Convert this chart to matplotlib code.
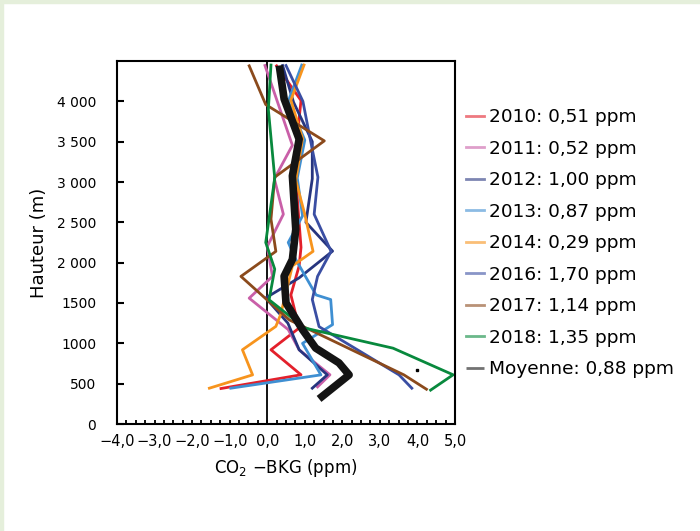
import matplotlib
matplotlib.use("Agg")
import matplotlib.pyplot as plt
from matplotlib.patches import Rectangle
from matplotlib.ticker import FixedLocator, MultipleLocator

# profils : altitude (m) et ecart CO2 - BKG (ppm)
h_2010 = [4440, 4010, 3790, 3300, 2800, 2190, 1960, 1600, 1190, 920, 610, 440]
v_2010 = [0.25, 0.90, 0.85, 0.75, 0.80, 0.90, 0.85, 0.63, 0.85, 0.10, 0.90, -1.23]

h_2011 = [4444, 3455, 3040, 2600, 2200, 1830, 1560, 1170, 920, 610, 460]
v_2011 = [-0.06, 0.67, 0.19, 0.43, 0.00, 0.14, -0.48, 0.56, 0.85, 1.67, 1.34]

h_2012 = [4444, 3990, 3500, 3040, 2500, 2143, 1812, 1563, 1250, 920, 609, 444]
v_2012 = [0.41, 0.70, 1.20, 1.20, 1.03, 1.74, 0.85, -0.04, 0.55, 0.85, 1.60, 1.20]

h_2013 = [4450, 4000, 3520, 3050, 2580, 2250, 2040, 1600, 1543, 1232, 1000, 609, 444]
v_2013 = [0.92, 0.56, 1.00, 0.80, 0.94, 0.56, 0.76, 1.30, 1.69, 1.74, 0.94, 1.43, -0.97]

h_2014 = [4450, 4015, 3540, 3020, 2600, 2140, 1960, 1360, 1210, 920, 609, 444]
v_2014 = [0.98, 0.63, 0.94, 0.76, 1.00, 1.22, 0.67, 0.36, 0.23, -0.66, -0.39, -1.54]

h_2016 = [4444, 4000, 3520, 3060, 2600, 2140, 1830, 1543, 1207, 609, 444]
v_2016 = [0.50, 0.95, 1.15, 1.35, 1.25, 1.70, 1.34, 1.20, 1.38, 3.51, 3.85]

h_2017 = [4440, 3960, 3510, 3060, 2540, 2140, 1830, 1290, 609, 431]
v_2017 = [-0.48, -0.04, 1.52, 0.20, 0.10, 0.23, -0.70, 0.59, 3.64, 4.24]

h_2018 = [4450, 3900, 3050, 2250, 1920, 1540, 1190, 940, 610, 420]
v_2018 = [0.10, 0.03, 0.20, -0.04, 0.20, 0.05, 1.00, 3.35, 4.95, 4.35]

h_moy = [4444, 4030, 3530, 3076, 2413, 2040, 1832, 1501, 1169, 941, 758, 609, 311]
v_moy = [0.32, 0.45, 0.85, 0.67, 0.76, 0.67, 0.45, 0.50, 0.94, 1.29, 1.91, 2.18, 1.38]

labels = ["2010: 0,51 ppm", "2011: 0,52 ppm", "2012: 1,00 ppm", "2013: 0,87 ppm",
          "2014: 0,29 ppm", "2016: 1,70 ppm", "2017: 1,14 ppm", "2018: 1,35 ppm",
          "Moyenne: 0,88 ppm"]
colors = ["#e3202b", "#c95fa8", "#27357f", "#3f8fd2", "#f7941d",
          "#3a4ea3", "#8b4a1c", "#08893d", "#141414"]

xticks = [-4, -3, -2, -1, 0, 1, 2, 3, 4, 5]
xlabels = ["−4,0", "−3,0", "−2,0", "−1,0", "0,0", "1,0", "2,0", "3,0", "4,0", "5,0"]
yticks = [0, 500, 1000, 1500, 2000, 2500, 3000, 3500, 4000]
ylabels = ["0", "500", "1000", "1500", "2 000", "2 500", "3 000", "3 500", "4 000"]

plt.rcParams['font.family'] = ['DejaVu Sans']

fig = plt.figure(figsize=(7, 5.31), dpi=100)
# cadre vert pale en haut et a gauche
fig.patches.append(Rectangle((0, 1 - 3/531), 1, 3/531, transform=fig.transFigure,
                             color="#e5efdb", zorder=0))
fig.patches.append(Rectangle((0, 0), 3/700, 1, transform=fig.transFigure,
                             color="#e5efdb", zorder=0))

ax = fig.add_axes([117/700, 1 - 424/531, 338/700, 363/531])

ax.axvline(0, color="black", lw=1.3, zorder=1)

series = [(v_2010, h_2010), (v_2011, h_2011), (v_2012, h_2012), (v_2013, h_2013),
          (v_2014, h_2014), (v_2016, h_2016), (v_2017, h_2017), (v_2018, h_2018)]
for (v, h), c, lab in zip(series, colors[:8], labels[:8]):
    ax.plot(v, h, color=c, lw=2, label=lab, zorder=2)
ax.plot(v_moy, h_moy, color=colors[8], lw=5.5, label=labels[8], zorder=3,
        solid_capstyle="butt")
ax.plot([4.0], [672], marker="s", ms=2, color="black", ls="none")

ax.set_xlim(-4, 5)
ax.set_ylim(0, 4500)
ax.xaxis.set_major_locator(FixedLocator(xticks))
ax.set_xticklabels(xlabels, fontsize=10.5)
ax.xaxis.set_minor_locator(MultipleLocator(0.25))
ax.yaxis.set_major_locator(FixedLocator(yticks))
ax.set_yticklabels(ylabels, fontsize=10)
ax.tick_params(axis="x", which="both", direction="in", length=3, width=1.3, pad=7)
ax.tick_params(axis="y", direction="in", length=5, width=1.5, pad=15)
for s in ax.spines.values():
    s.set_linewidth(1.5)

ax.set_xlabel("CO$_2$ −BKG (ppm)", fontsize=12, labelpad=6)
ax.set_ylabel("Hauteur (m)", fontsize=13, labelpad=6)

leg = ax.legend(loc="upper left", bbox_to_anchor=(1.01, 0.89), frameon=False,
                fontsize=13.3, handlelength=1.0, handletextpad=0.28,
                labelspacing=0.73, borderaxespad=0)
for lh in leg.get_lines():
    lh.set_linewidth(2)
    lh.set_alpha(0.6)

fig.savefig("out.png", dpi=100)
